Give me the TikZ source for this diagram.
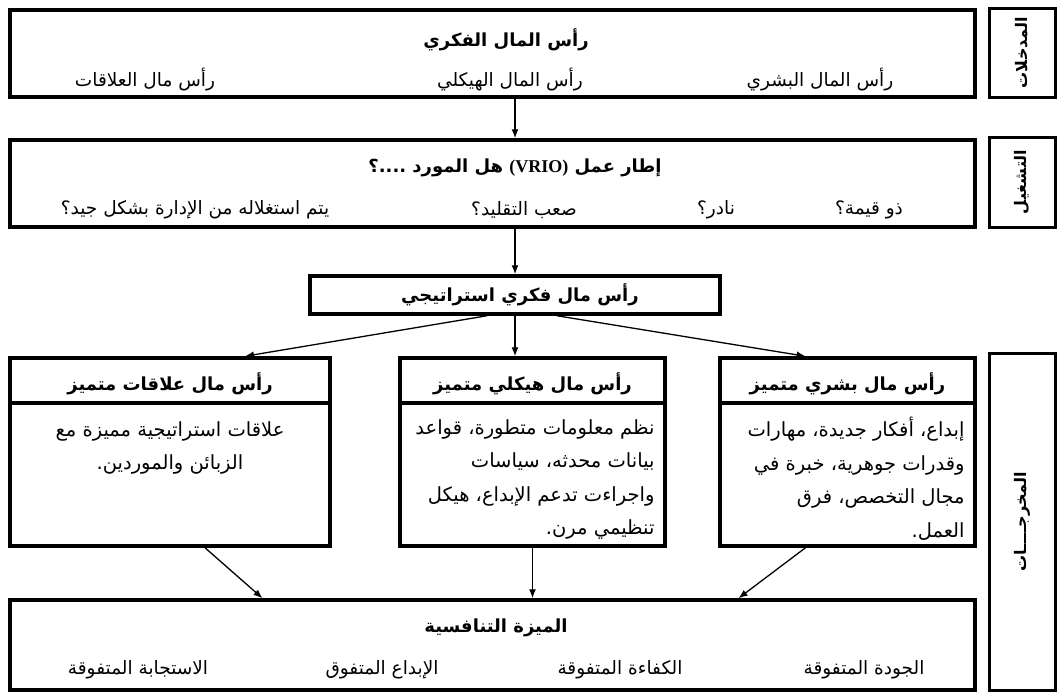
\documentclass[tikz,border=0pt]{standalone}
\usepackage{fontspec}
\usetikzlibrary{arrows.meta,calc,positioning}
\TeXXeTstate=1
\newfontfamily\arabicfont[Script=Arabic]{DejaVu Sans}
\newfontfamily\vriofont{Liberation Serif}
\newcommand*\artxt[1]{{\arabicfont\beginR #1\endR}}
\tikzset{
	bigbox/.style={draw, line width=3.5pt, minimum width=965pt, inner sep=0pt},
	headbox/.style={draw, line width=3.5pt, minimum height=45pt, inner sep=0pt},
	bodybox/.style={draw, line width=3.5pt, minimum height=143pt, inner sep=0pt},
	sidebox/.style={draw, line width=3pt, rotate=90, minimum height=66pt, inner sep=0pt,
		font=\fontsize{16}{18}\selectfont\bfseries},
	item/.style={inner sep=0pt, font=\fontsize{18.5}{20}\selectfont},
	title/.style={inner sep=0pt, font=\fontsize{18}{20}\selectfont\bfseries},
	body/.style={inner sep=0pt, font=\fontsize{19.5}{33.5}\selectfont},
	arrow/.style={-{Latex[length=9pt,width=7pt]}, line width=1.3pt}
}

\begin{document}
\begin{tikzpicture}[x=1pt, y=-1pt]
	\useasboundingbox (0,0) rectangle (1061,699);
	% inputs
	\node[bigbox, minimum height=87pt] (capital) at (492.5,53.5) {};
	\node[title] (capitaltitle) at (506,40) {\artxt{رأس المال الفكري}};
	\node[item] (human) at (820,80) {\artxt{رأس المال البشري}};
	\node[item] (struct) at (510,80) {\artxt{رأس المال الهيكلي}};
	\node[item] (relation) at (145,80) {\artxt{رأس مال العلاقات}};
	\node[sidebox, minimum width=89pt] (inputs) at (1022,52.5) {\artxt{المدخلات}};
	% VRIO
	\node[bigbox, minimum height=87pt] (vrio) at (492.5,183.5) {};
	\node[title] (vriotitle) at (515,168)
		{\artxt{إطار عمل \beginL{\vriofont\bfseries (VRIO)}\endL{} هل المورد ....؟}};
	\node[item] (valuable) at (869,210) {\artxt{ذو قيمة؟}};
	\node[item] (rare) at (716,210) {\artxt{نادر؟}};
	\node[item] (inimitable) at (524,210) {\artxt{صعب التقليد؟}};
	\node[item] (organised) at (195,210) {\artxt{يتم استغلاله من الإدارة بشكل جيد؟}};
	\node[sidebox, minimum width=90pt] (operation) at (1022,182) {\artxt{التشغيل}};
	% strategic capital
	\node[draw, line width=3.5pt, minimum width=410pt, minimum height=38pt, inner sep=0pt]
		(strat) at (515,295) {};
	\node[title] at ($(strat.center)+(5,0)$) {\artxt{رأس مال فكري استراتيجي}};
	% three outputs
	\node[headbox, minimum width=320pt] (relhead) at (170,380.5) {};
	\node[bodybox, minimum width=320pt] (relbody) at (170,474.5) {};
	\node[title] at ($(relhead.center)+(0,3)$) {\artxt{رأس مال علاقات متميز}};
	\node[body, anchor=north, align=center] at ($(relbody.north)+(0,20)$)
		{\artxt{علاقات استراتيجية مميزة مع}\\ \artxt{الزبائن والموردين.}};
	\node[headbox, minimum width=265pt] (midhead) at (532.5,380.5) {};
	\node[bodybox, minimum width=265pt] (midbody) at (532.5,474.5) {};
	\node[title] at ($(midhead.center)+(0,3)$) {\artxt{رأس مال هيكلي متميز}};
	\node[body, anchor=north east, align=right] at ($(midbody.north east)+(-12,18)$)
		{\artxt{نظم معلومات متطورة، قواعد}\\ \artxt{بيانات محدثه، سياسات}\\
		 \artxt{واجراءت تدعم الإبداع، هيكل}\\ \artxt{تنظيمي مرن.}};
	\node[headbox, minimum width=255pt] (humhead) at (847.5,380.5) {};
	\node[bodybox, minimum width=255pt] (humbody) at (847.5,474.5) {};
	\node[title] at ($(humhead.center)+(0,3)$) {\artxt{رأس مال بشري متميز}};
	\node[body, anchor=north east, align=right] at ($(humbody.north east)+(-12,16)$)
		{\artxt{إبداع، أفكار جديدة، مهارات}\\ \artxt{وقدرات جوهرية، خبرة في}\\
		 \artxt{مجال التخصص، فرق}\\ \artxt{العمل.}};
	\node[sidebox, minimum width=337pt] (outputs) at (1022,521.5) {\artxt{المخرجــــات}};
	% competitive advantage
	\node[bigbox, minimum height=90pt] (adv) at (492.5,645) {};
	\node[title] (advtitle) at (496,628) {\artxt{الميزة التنافسية}};
	\node[item] (quality) at (864,670) {\artxt{الجودة المتفوقة}};
	\node[item] (efficiency) at (620,670) {\artxt{الكفاءة المتفوقة}};
	\node[item] (innovation) at (382,670) {\artxt{الإبداع المتفوق}};
	\node[item] (response) at (138,670) {\artxt{الاستجابة المتفوقة}};
	% arrows
	\draw[arrow] (capital.south -| strat.north) -- (vrio.north -| strat.north);
	\draw[arrow] (vrio.south -| strat.north) -- (strat.north);
	\draw[arrow] (strat.south) -- (strat.south |- midhead.north);
	\draw[arrow] ($(strat.south)+(-28,0)$) -- ($(relhead.north)+(75,0)$);
	\draw[arrow] ($(strat.south)+(42,0)$) -- ($(humhead.north)+(-42,0)$);
	\draw[arrow] ($(relbody.south)+(35,0)$) -- ($(adv.north)+(-230,0)$);
	\draw[arrow] (midbody.south) -- (midbody.south |- adv.north);
	\draw[arrow] ($(humbody.south)+(-42,0)$) -- ($(adv.north)+(246,0)$);
\end{tikzpicture}
\end{document}
